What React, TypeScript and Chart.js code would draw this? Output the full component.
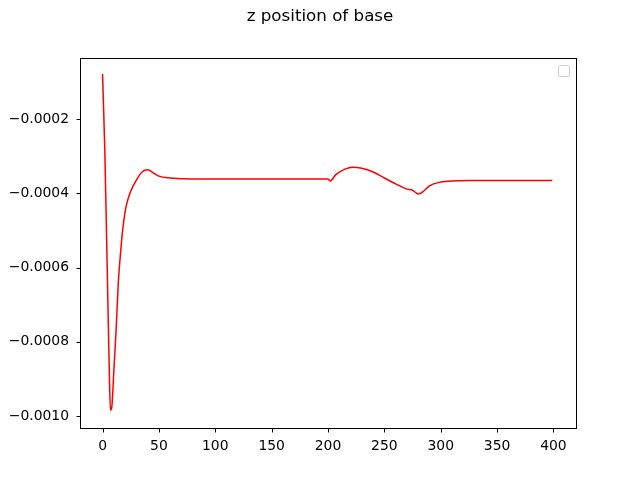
import React, { useEffect, useRef } from "react";
import { Chart, registerables } from "chart.js";
Chart.register(...registerables);

const xs = [0,2,4,6,7,8,10,12,14,16,18,20,22,25,30,35,40,45,50,60,80,200,202,207,215,222,230,240,250,260,270,275,280,285,290,300,310,330,399];
const ys = [-0.000079,-0.000283,-0.00058,-0.00088,-0.000984,-0.00098,-0.00088,-0.00077,-0.00064,-0.00056,-0.000495,-0.00045,-0.000422,-0.000395,-0.000365,-0.000343,-0.000337,-0.000345,-0.000354,-0.000359,-0.000362,-0.000362,-0.000367,-0.00035,-0.000335,-0.00033,-0.000333,-0.000343,-0.000359,-0.000375,-0.000389,-0.000392,-0.000402,-0.000394,-0.00038,-0.00037,-0.000367,-0.000366,-0.000366];
const xTicks = [0,50,100,150,200,250,300,350,400];
const yTicks = [-0.001,-0.0008,-0.0006,-0.0004,-0.0002];
const title = "z position of base";

export default function App() {
  const ref = useRef<HTMLCanvasElement>(null);
  useEffect(() => {
    const font = { family: "DejaVu Sans", size: 13.9 };
    const extras = {
      id: "extras",
      afterDraw(c: any) {
        const ctx = c.ctx;
        ctx.save();
        ctx.fillStyle = "#000";
        ctx.font = "16.7px 'DejaVu Sans'";
        ctx.textAlign = "center";
        ctx.textBaseline = "middle";
        ctx.fillText(title, 320, 17);
        ctx.strokeStyle = "#ccc";
        ctx.lineWidth = 1;
        ctx.beginPath();
        (ctx as any).roundRect(558.5, 65.5, 11, 11, 2);
        ctx.stroke();
        ctx.strokeStyle = "#000";
        const a = c.chartArea;
        const L = Math.round(a.left) + 0.5, T = Math.round(a.top) + 0.5, B = Math.round(a.bottom) + 0.5;
        ctx.strokeRect(L, T, Math.round(a.right - a.left), Math.round(a.bottom - a.top));
        ctx.beginPath();
        xTicks.forEach((v) => { const px = Math.round(c.scales.x.getPixelForValue(v)) + 0.5; ctx.moveTo(px, B); ctx.lineTo(px, B + 4); });
        yTicks.forEach((v) => { const py = Math.round(c.scales.y.getPixelForValue(v)) + 0.5; ctx.moveTo(L, py); ctx.lineTo(L - 4, py); });
        ctx.stroke();
        ctx.restore();
      },
    };
    const chart = new Chart(ref.current!, {
      type: "line",
      data: { datasets: [{ data: xs.map((x, i) => ({ x, y: ys[i] })), borderColor: "red", borderWidth: 1.5, pointRadius: 0, cubicInterpolationMode: "monotone" } as any] },
      options: {
        animation: false, responsive: false,
        layout: { padding: { top: 58, right: 64, left: 0, bottom: 0 } },
        plugins: { legend: { display: false }, tooltip: { enabled: false } },
        scales: {
          x: {
            type: "linear", min: -20, max: 420,
            afterBuildTicks: (s: any) => { s.ticks = xTicks.map((v) => ({ value: v })); },
            afterFit: (s: any) => { s.height = 52; },
            grid: { display: false, tickLength: 4 } as any,
            border: { display: false },
            ticks: { color: "#000", font, padding: 6, maxRotation: 0, callback: (v: any) => String(v) },
          },
          y: {
            type: "linear", min: -0.001032, max: -0.000036,
            afterBuildTicks: (s: any) => { s.ticks = yTicks.map((v) => ({ value: v })); },
            afterFit: (s: any) => { s.width = 80; },
            grid: { display: false, tickLength: 4 } as any,
            border: { display: false },
            ticks: { color: "#000", font, padding: 7, callback: (v: any) => "\u2212" + Math.abs(v).toFixed(4) },
          },
        },
      },
      plugins: [extras],
    });
    return () => chart.destroy();
  }, []);
  return (
    <div style={{ position: "absolute", left: 0, top: 0, width: 640, height: 480, background: "#fff" }}>
      <canvas ref={ref} width={640} height={480} />
    </div>
  );
}
